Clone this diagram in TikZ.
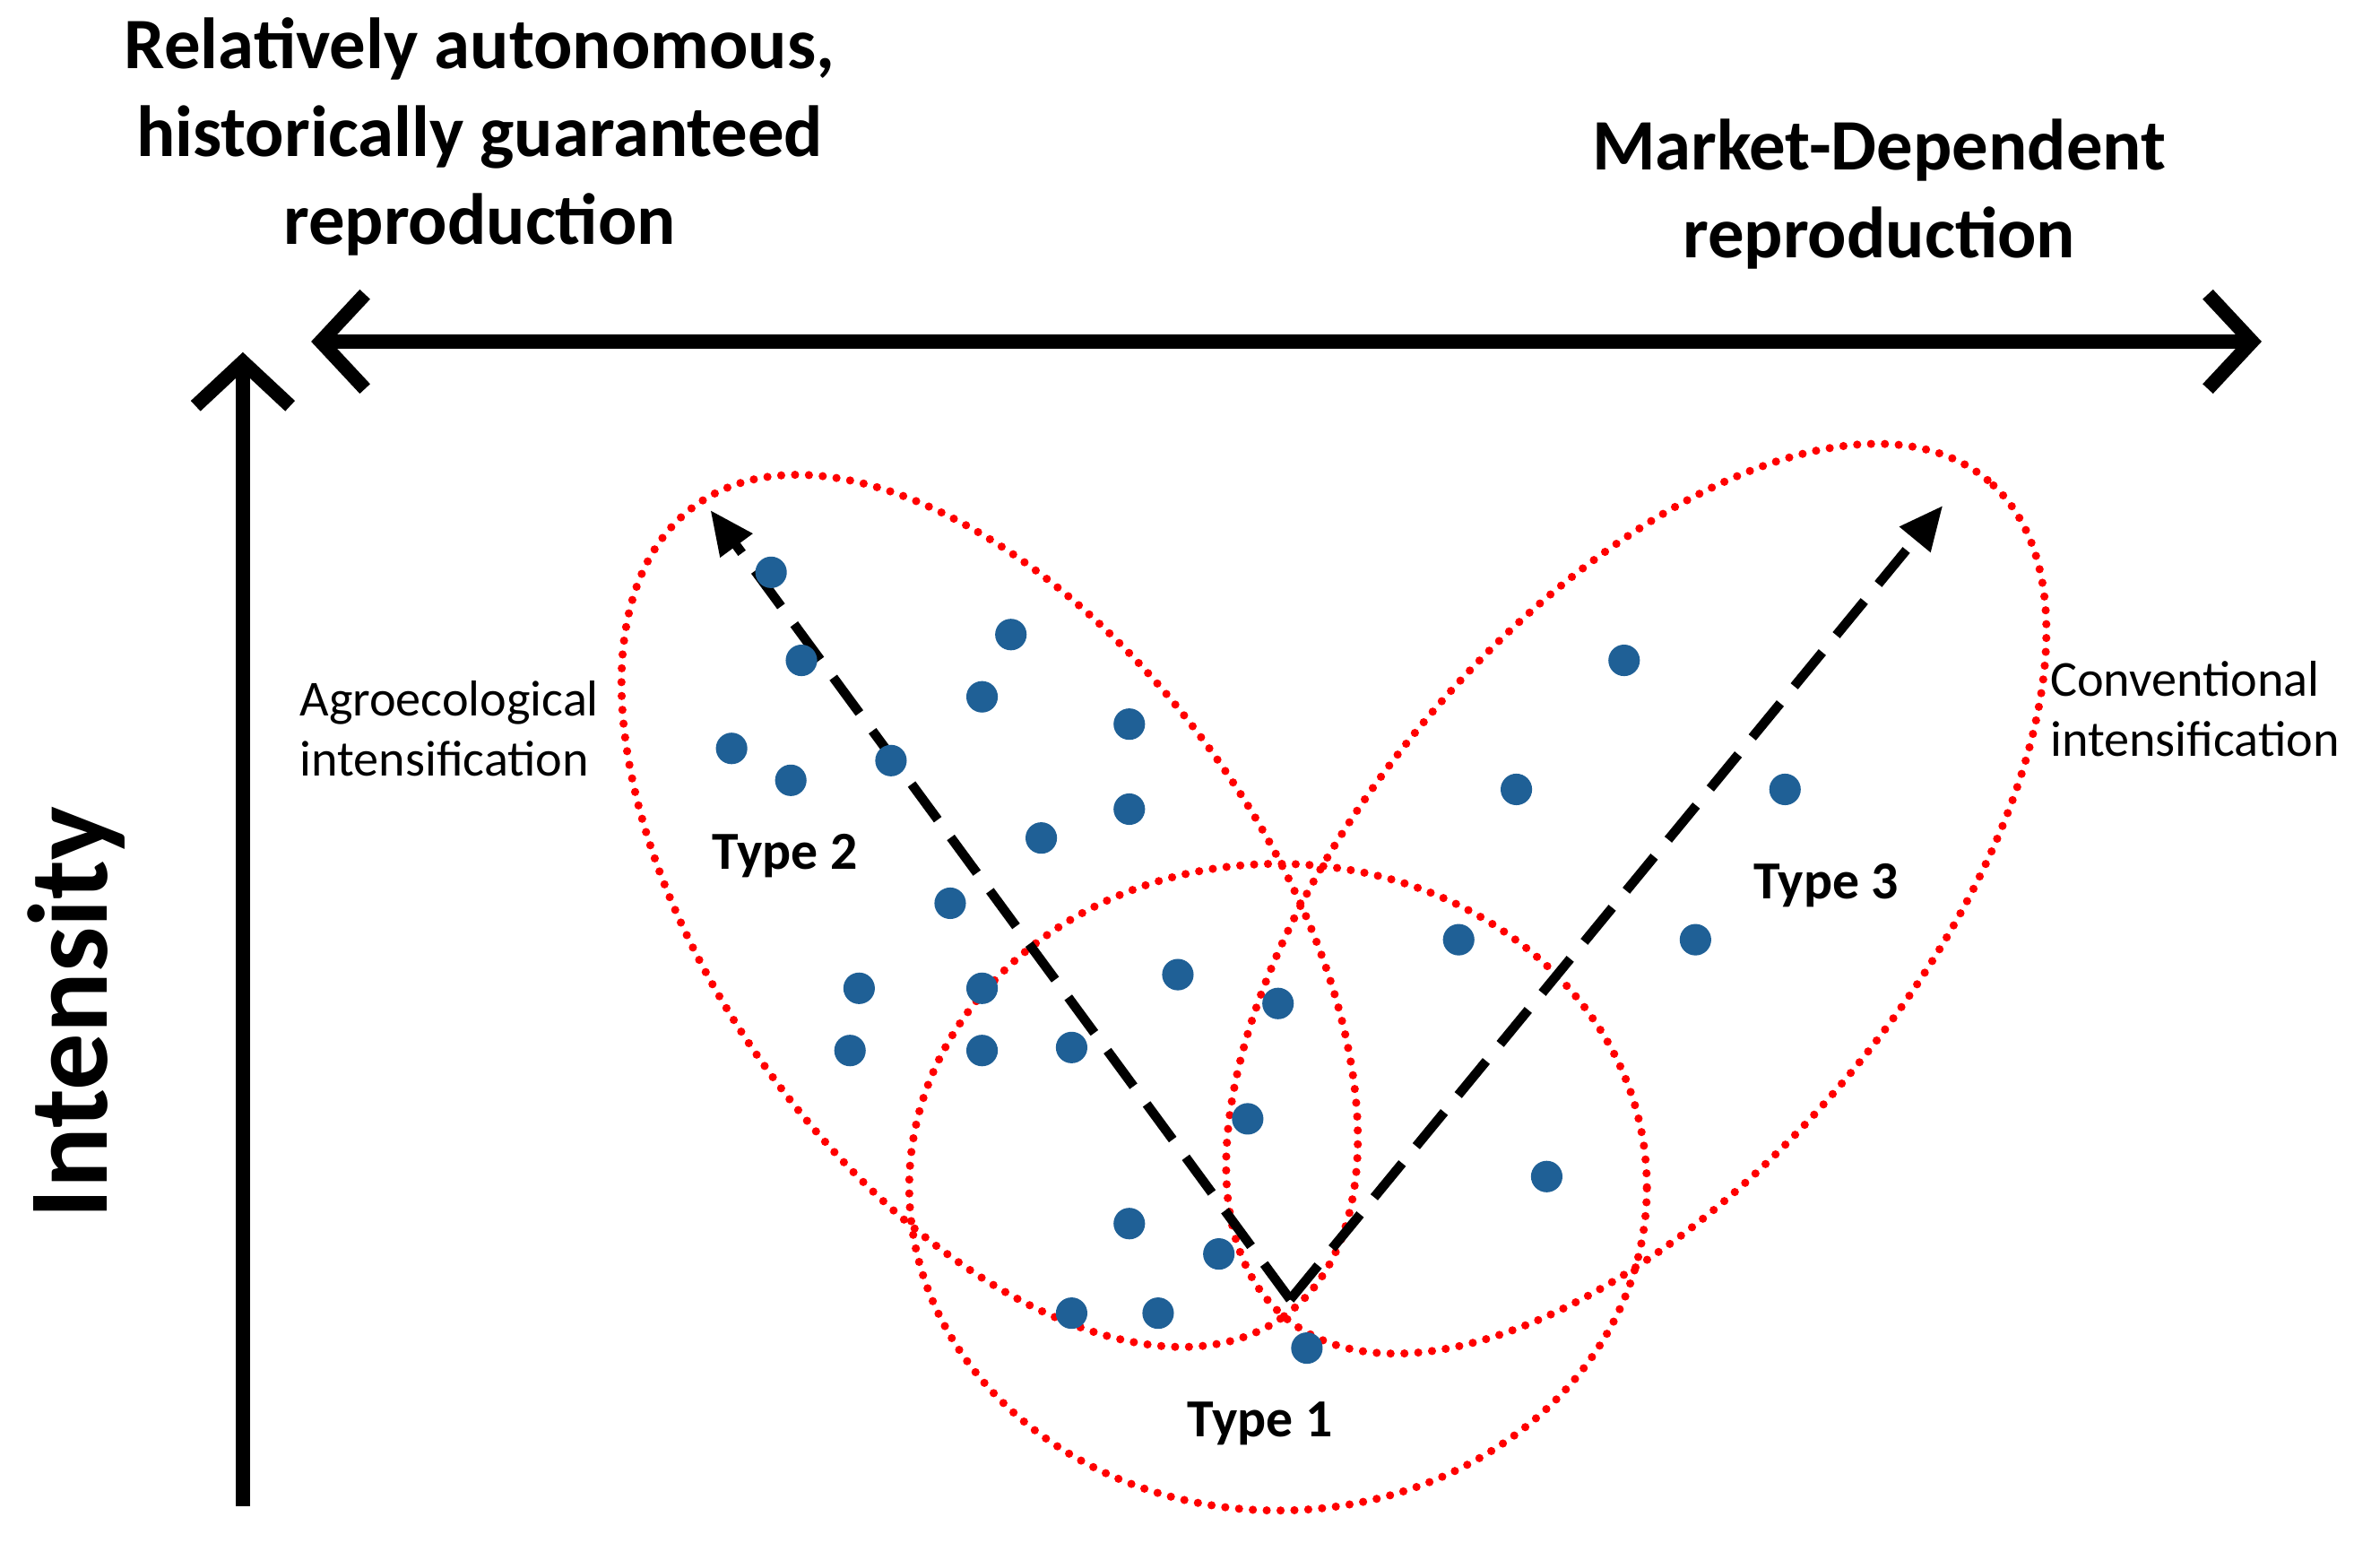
\documentclass[tikz,border=0pt]{standalone}
\usepackage{fontspec}
\setmainfont{Carlito}
\usetikzlibrary{arrows.meta}
\definecolor{dotblue}{RGB}{31,96,150}
\begin{document}
\begin{tikzpicture}[x=0.01693cm,y=0.01693cm,
  barb/.tip={Straight Barb[length=14pt,width=30pt,line width=4.5pt]},
  axis/.style={line width=4.5pt},
  ring/.style={red,line width=2.6pt,dash pattern=on 0pt off 4.4pt,line cap=round},
  dasharr/.style={line width=3pt,dash pattern=on 14pt off 7pt,-{Triangle[length=14pt,width=12pt]}},
  pt/.style={circle,fill=dotblue,inner sep=0pt,minimum size=10pt},
  big/.style={font=\bfseries\fontsize{23}{28}\selectfont,align=center},
  lab/.style={font=\bfseries\fontsize{17}{20}\selectfont},
  small/.style={font=\fontsize{16}{19}\selectfont,align=left}]
\useasboundingbox (0,0) rectangle (1568,-1016);
\coordinate (hl) at (205,-225); \coordinate (hr) at (1490,-225);
\draw[axis,barb-barb] (hl) -- (hr);
\coordinate (vb) at (160,-992); \coordinate (vt) at (160,-232);
\draw[axis,-barb] (vb) -- (vt);
\node[big] (t1) at (316,-90) {Relatively autonomous,\\historically guaranteed\\reproduction};
\node[big] (t2) at (1238,-128) {Market-Dependent\\reproduction};
\node[font=\bfseries\fontsize{36}{40}\selectfont,rotate=90] (int) at (50,-667) {Intensity};
\node[small] (ag) at (296,-480) {Agroecological\\intensification};
\node[small] (cv) at (1446,-467) {Conventional\\intensification};
\node[lab] (ty2) at (517,-564) {Type 2};
\node[lab] (ty3) at (1203,-583) {Type 3};
\node[lab] (ty1) at (830,-938) {Type 1};
\draw[ring,rotate around={-54:(652,-600)}] (652,-600) ellipse (330 and 180);
\draw[ring,rotate around={50:(1078,-592)}] (1078,-592) ellipse (360 and 182);
\draw[ring] (842,-782) ellipse (243 and 213);
\coordinate (o) at (850,-856);
\coordinate (a2) at (468,-336);
\coordinate (a3) at (1280,-333);
\draw[dasharr] (o) -- (a2);
\draw[dasharr] (o) -- (a3);
\foreach \x/\y [count=\i] in {508/377,666/418,528/435,647/459,744/477,482/493,521/514,587/501,744/533,686/552,626/595,566/651,647/651,776/642,842/661,560/692,647/692,706/690,822/737,744/806,803/826,706/865,763/865,861/888,1070/435,999/520,1176/520,961/619,1117/619,1019/775}
  \node[pt] (p\i) at (\x,-\y) {};
\end{tikzpicture}
\end{document}
